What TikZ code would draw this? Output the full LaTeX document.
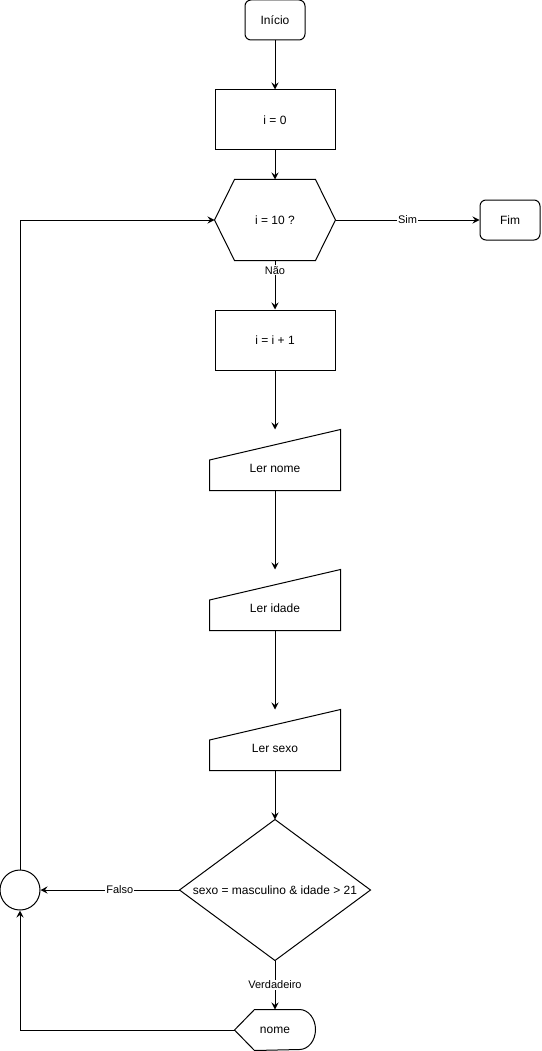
\documentclass[tikz,border=0pt]{standalone}
\usepackage{fontspec}
\setmainfont{Liberation Sans}
\usetikzlibrary{arrows.meta,calc}

\begin{document}
\begin{tikzpicture}[x=1pt,y=-1pt,line width=1pt,
  font=\fontsize{12}{14}\selectfont,
  proc/.style={draw,rectangle,minimum width=120pt,minimum height=60pt,inner sep=0pt},
  term/.style={draw,rectangle,rounded corners=6pt,minimum width=60pt,minimum height=40pt,inner sep=0pt},
  blank/.style={rectangle,inner sep=0pt},
  entrada/.style={blank,minimum width=130pt,minimum height=60pt},
  lbl/.style={fill=white,inner sep=1pt,font=\fontsize{11}{13}\selectfont},
  flow/.style={-{Stealth[length=7pt,width=7pt,inset=2.5pt]}}]
\useasboundingbox (0,0) rectangle (541,1051);

\node[term] (inicio) at (275,20) {Início};
\node[proc] (init) at (275,120) {i = 0};
\node[blank,minimum width=120pt,minimum height=80pt] (teste) at (275,220) {i = 10 ?};
\node[term] (fim) at (510,220) {Fim};
\node[proc] (incr) at (275,340) {i = i + 1};

\node[entrada,label={[yshift=-8pt]center:Ler nome}] (lernome) at (275,460) {};
\node[entrada,label={[yshift=-8pt]center:Ler idade}] (leridade) at (275,600) {};
\node[entrada,label={[yshift=-8pt]center:Ler sexo}] (lersexo) at (275,740) {};

\node[blank,minimum width=190pt,minimum height=140pt] (cond) at (275,890) {sexo = masculino \& idade > 21};
\node[circle,draw,minimum size=40pt,inner sep=0pt] (junta) at (20,890) {};
\node[blank,minimum width=80pt,minimum height=40pt] (shownome) at (275,1030) {nome};

% contornos
\draw (teste.west) -- ([xshift=20pt]teste.north west) -- ([xshift=-20pt]teste.north east)
  -- (teste.east) -- ([xshift=-20pt]teste.south east) -- ([xshift=20pt]teste.south west) -- cycle;
\foreach \n in {lernome,leridade,lersexo}
  \draw (\n.west) -- (\n.north east) -- (\n.south east) -- (\n.south west) -- cycle;
\draw (cond.north) -- (cond.east) -- (cond.south) -- (cond.west) -- cycle;
\draw (shownome.west) -- ([xshift=20pt]shownome.north west) -- ([xshift=-16pt]shownome.north east)
  arc[start angle=-90,end angle=90,x radius=16,y radius=20] -- ([xshift=20pt]shownome.south west) -- cycle;

% ligacoes
\draw[flow] (inicio) -- (init);
\draw[flow] (init) -- (teste);
\draw[flow] (teste) -- node[lbl]{Sim} (fim);
\draw[flow] (teste) -- node[lbl,pos=0.2]{Não} (incr);
\draw[flow] (incr) -- (lernome);
\draw[flow] (lernome) -- (leridade);
\draw[flow] (leridade) -- (lersexo);
\draw[flow] (lersexo) -- (cond);
\draw[flow] (cond) -- node[lbl,pos=0.43]{Falso} (junta);
\draw[flow] (cond) -- node[lbl]{Verdadeiro} (shownome);
\draw[flow] (shownome.west) -| (junta.south);
\draw[flow] (junta.north) |- (teste.west);

\end{tikzpicture}
\end{document}
